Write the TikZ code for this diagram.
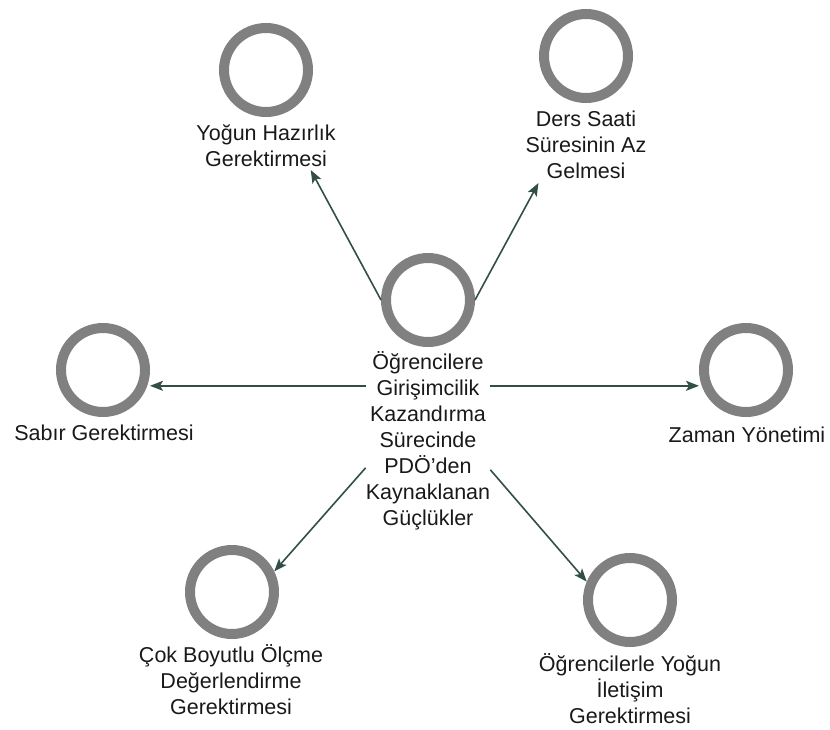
\documentclass[tikz,border=0pt]{standalone}
\usepackage{fontspec}
\setmainfont{Liberation Sans}
\usetikzlibrary{arrows.meta}
\definecolor{ringgray}{RGB}{128,128,128}
\definecolor{linkcol}{RGB}{50,78,72}
\definecolor{txtcol}{RGB}{25,25,25}
\newcommand{\lines}[1]{\begin{tabular}[t]{@{}c@{}}#1\end{tabular}}
\begin{document}
\begin{tikzpicture}[x=1pt,y=-1pt,
  ring/.style={circle, draw=ringgray, line width=10pt, minimum size=84pt, inner sep=0pt},
  lbl/.style={anchor=base, inner sep=0pt, text=txtcol,
    font=\fontsize{21.5}{26}\selectfont},
  arr/.style={draw=linkcol, line width=1.6pt,
    -{Stealth[length=13pt,width=10pt,inset=3pt]}}]
\useasboundingbox (0,0) rectangle (830,729);

% central topic
\node[ring] (c) at (428,300) {};
\node[lbl] (ct) at (428,369) {\lines{Öğrencilere\\Girişimcilik\\Kazandırma\\Sürecinde\\PDÖ’den\\Kaynaklanan\\Güçlükler}};

% surrounding topics
\node[ring] (yog) at (266,70) {};
\node[lbl] (yogl) at (266,140) {\lines{Yoğun Hazırlık\\Gerektirmesi}};

\node[ring] (der) at (586,56) {};
\node[lbl] (derl) at (586,126) {\lines{Ders Saati\\Süresinin Az\\Gelmesi}};

\node[ring] (sab) at (103,370) {};
\node[lbl] (sabl) at (104,440) {\lines{Sabır Gerektirmesi}};

\node[ring] (zam) at (746,370) {};
\node[lbl] (zaml) at (747,442) {\lines{Zaman Yönetimi}};

\node[ring] (cok) at (232,592) {};
\node[lbl] (cokl) at (231,662) {\lines{Çok Boyutlu Ölçme\\Değerlendirme\\Gerektirmesi}};

\node[ring] (ogr) at (630,600) {};
\node[lbl] (ogrl) at (630,671) {\lines{Öğrencilerle Yoğun\\İletişim\\Gerektirmesi}};

% connectors
\coordinate (lw) at ([yshift=56pt]ct.west);
\coordinate (rw) at ([yshift=56pt]ct.east);
\draw[arr] (c.west) -- ([xshift=-25pt,yshift=4pt]yogl.south east);
\draw[arr] (c.east) -- ([xshift=13pt,yshift=3pt]derl.south west);
\draw[arr] (lw) -- (lw -| sab.east);
\draw[arr] (rw) -- (rw -| zam.west);
\draw[arr] ([yshift=-26pt]ct.west) -- (cok.26);
\draw[arr] ([yshift=-28pt]ct.east) -- (ogr.157);
\end{tikzpicture}
\end{document}
